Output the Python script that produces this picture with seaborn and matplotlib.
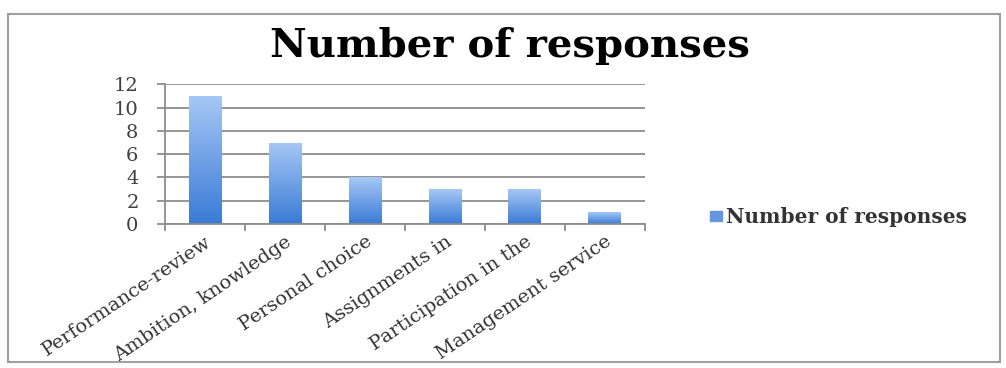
import numpy as np
import pandas as pd
import matplotlib
matplotlib.use("Agg")
import matplotlib.pyplot as plt
import seaborn as sns
from matplotlib.colors import LinearSegmentedColormap
from matplotlib.patches import Rectangle, Patch

categories = ["Performance-review", "Ambition, knowledge", "Personal choice",
              "Assignments in", "Participation in the", "Management service"]
responses = [11, 7, 4, 3, 3, 1]
y_ticks = [0, 2, 4, 6, 8, 10, 12]
title = "Number of responses"
series_name = "Number of responses"

df = pd.DataFrame({"category": categories, "responses": responses})

sns.set_theme(style="white")
plt.rcParams["font.family"] = ["DejaVu Serif"]

fig = plt.figure(figsize=(10.06, 3.68), dpi=100)
ax = fig.add_axes([0.164, 0.391, 0.477, 0.38])
sns.barplot(data=df, x="category", y="responses", ax=ax, width=0.41,
            color="#5b8fd9", saturation=1, linewidth=0)

cmap = LinearSegmentedColormap.from_list("g", ["#3a7ad6", "#a6c8f5"])
grad = np.linspace(0, 1, 256).reshape(-1, 1)
for p in list(ax.patches):
    x0, y0 = p.get_x(), p.get_y()
    w, h = p.get_width(), p.get_height()
    im = ax.imshow(grad, extent=[x0, x0 + w, y0, y0 + h], origin="lower",
                   cmap=cmap, aspect="auto", zorder=p.get_zorder() + 0.1)
    im.set_clip_path(p)

ax.set_xlim(-0.5, len(categories) - 0.5)
ax.set_ylim(0, 12)
ax.set_yticks(y_ticks)
ax.yaxis.grid(True, color="#8c8c8c", lw=1.3)
ax.set_axisbelow(True)
for s in ["top", "right"]:
    ax.spines[s].set_visible(False)
for s in ["left", "bottom"]:
    ax.spines[s].set_color("#8c8c8c")
    ax.spines[s].set_linewidth(1.3)

ax.set_xlabel("")
ax.set_ylabel("")
ax.set_xticks(range(len(categories)))
ax.set_xticklabels(categories, rotation=34, ha="right", rotation_mode="anchor",
                   fontsize=14, color="#333333")
ax.set_xticks(np.arange(-0.5, len(categories), 1), minor=True)
ax.tick_params(axis="x", which="major", length=0, pad=6)
ax.tick_params(axis="x", which="minor", length=5, width=1.3, color="#8c8c8c",
               direction="out", bottom=True)
ax.tick_params(axis="y", length=6, width=1.3, color="#8c8c8c", direction="out",
               left=True, labelsize=14, labelcolor="#404040", pad=13)

fig.text(0.507, 0.845, title, ha="center", va="baseline", fontsize=29,
         fontweight="bold", color="black")

fig.legend(handles=[Patch(color="#6396de")], labels=[series_name],
           loc="center left", bbox_to_anchor=(0.688, 0.41), frameon=False,
           handlelength=0.6, handleheight=0.45, handletextpad=0.2,
           prop={"size": 14.5, "weight": "bold"}, labelcolor="#333333")

fig.patches.append(Rectangle((0.008, 0.016), 0.986, 0.946, transform=fig.transFigure,
                             fill=False, ec="#a0a0a0", lw=1.5))

fig.savefig("out.png", dpi=100)
